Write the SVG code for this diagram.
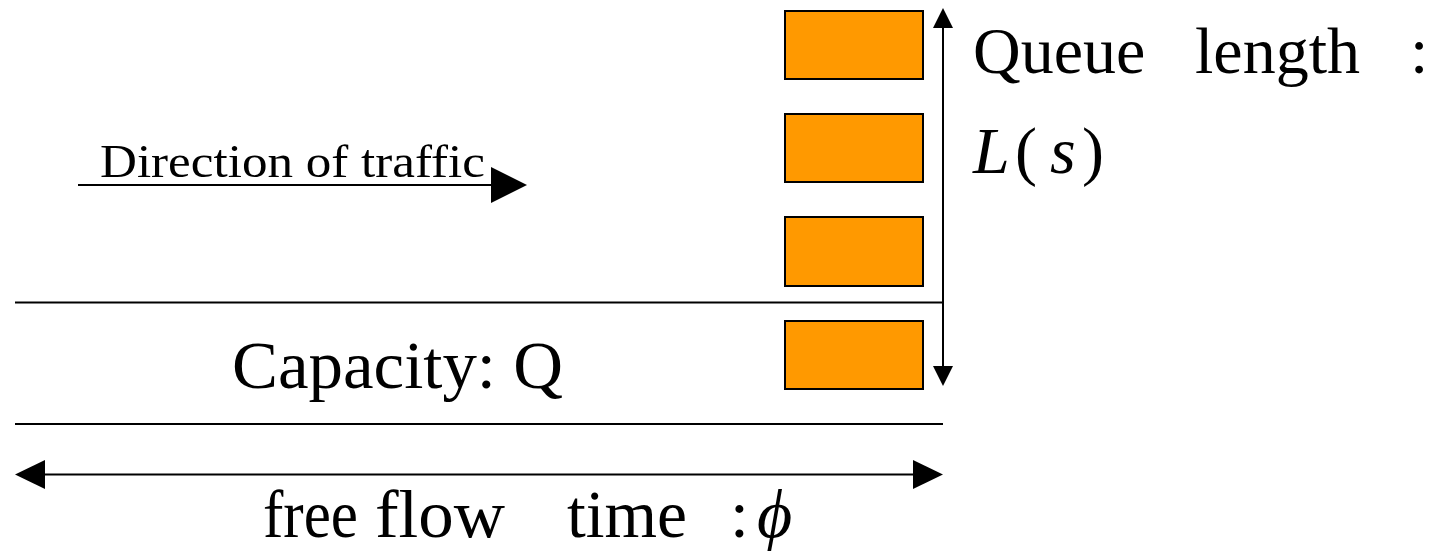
<svg xmlns="http://www.w3.org/2000/svg" width="1437" height="552" viewBox="0 0 1437 552">
<style>
.box{fill:#FF9900;stroke:#000;stroke-width:2}
.ln{stroke:#000;stroke-width:2;fill:none}
.hd{fill:#000;stroke:none}
.t{font-family:"Liberation Serif","DejaVu Serif",serif;fill:#000}
</style>
<rect width="1437" height="552" fill="#fff"/>
<g id="connectors">
<line class="ln" x1="15" y1="302.5" x2="943" y2="302.5"/>
<line class="ln" x1="15" y1="424" x2="943" y2="424"/>
<line class="ln" x1="943" y1="26" x2="943" y2="368"/>
<polygon class="hd" points="943,8 933,28 953,28"/>
<polygon class="hd" points="943,386 933,366 953,366"/>
<line class="ln" x1="78" y1="185" x2="493" y2="185"/>
<polygon class="hd" points="491,167 527,185 491,203"/>
<line class="ln" x1="42" y1="474.5" x2="916" y2="474.5"/>
<polygon class="hd" points="15,474.5 45,460 45,489"/>
<polygon class="hd" points="943,474.5 913,460 913,489"/>
</g>
<g id="car1"><rect class="box" x="785" y="11" width="138" height="68"/></g>
<g id="car2"><rect class="box" x="785" y="114" width="138" height="68"/></g>
<g id="car3"><rect class="box" x="785" y="217" width="138" height="69"/></g>
<g id="car4"><rect class="box" x="785" y="321" width="138" height="68"/></g>
<g id="direction-label"><text class="t" x="100" y="177" font-size="47" textLength="385" lengthAdjust="spacingAndGlyphs">Direction of traffic</text></g>
<g id="capacity-label"><text class="t" x="232" y="388" font-size="67" textLength="331" lengthAdjust="spacingAndGlyphs">Capacity: Q</text></g>
<g id="queue-label">
<text class="t" font-size="66" y="73"><tspan x="973">Queue</tspan><tspan x="1195">length</tspan><tspan x="1410">:</tspan></text>
<text class="t" font-size="66" y="173"><tspan x="973" font-style="italic">L</tspan><tspan x="1015">(</tspan><tspan x="1050" font-style="italic">s</tspan><tspan x="1082">)</tspan></text>
</g>
<g id="freeflow-label">
<text class="t" font-size="68" x="263" y="537" textLength="95" lengthAdjust="spacingAndGlyphs">free</text>
<text class="t" font-size="68" x="375" y="537" textLength="130" lengthAdjust="spacingAndGlyphs">flow</text>
<text class="t" font-size="68" x="567" y="537" textLength="120" lengthAdjust="spacingAndGlyphs">time</text>
<text class="t" font-size="68" x="730" y="537">:</text>
<text class="t" font-size="68" x="757" y="537" font-style="italic">ϕ</text>
</g>
</svg>
